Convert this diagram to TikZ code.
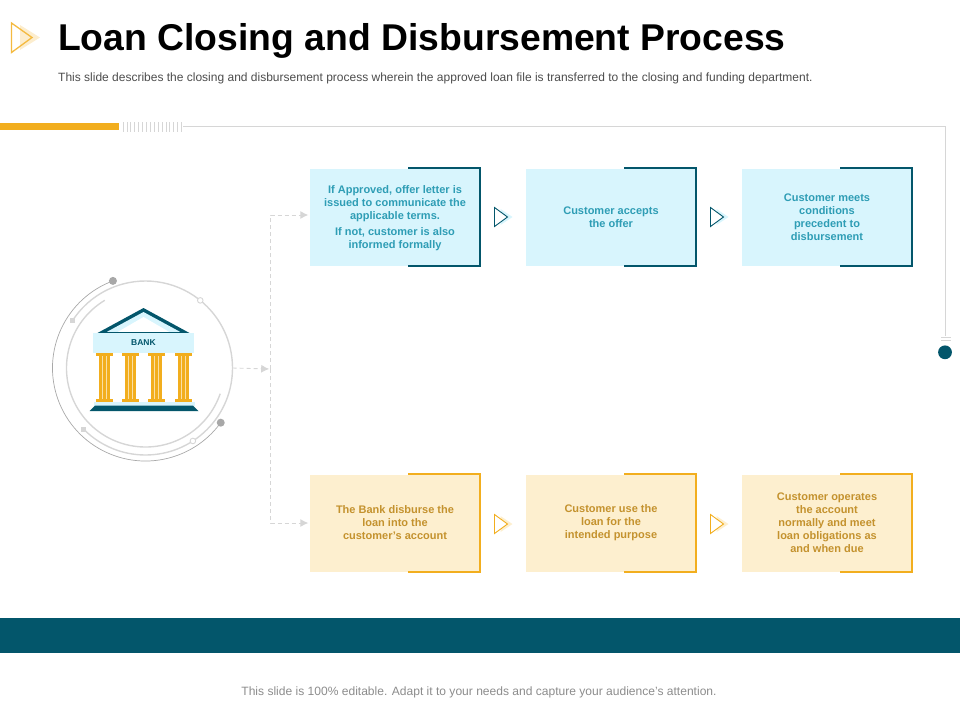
\documentclass[tikz,border=0pt]{standalone}
\usepackage{fontspec}
\setmainfont{Liberation Sans}
\usetikzlibrary{arrows.meta}
\definecolor{tealdark}{HTML}{03566B}
\definecolor{tealtext}{HTML}{2E9DB5}
\definecolor{bluebox}{HTML}{D8F5FD}
\definecolor{orangeline}{HTML}{F2AE1E}
\definecolor{orangebox}{HTML}{FDEFCF}
\definecolor{orangetext}{HTML}{C4922E}
\definecolor{ringgray}{HTML}{D6D6D6}
\definecolor{dotgray}{HTML}{A8A8A8}
\tikzset{
  bluecard/.style={minimum width=170pt,minimum height=97pt,inner sep=0pt,align=center,fill=bluebox,text=tealtext,
    font=\fontsize{11}{13}\selectfont\bfseries},
  orangecard/.style={bluecard,fill=orangebox,text=orangetext},
  dashline/.style={draw=ringgray,dash pattern=on 4pt off 3pt,line width=0.9pt},
  dashtip/.style={-{Latex[length=8pt,width=8pt,fill=ringgray]},shorten >=1.5pt}
}
\newcommand{\cardedge}[2]{\draw[#2,line width=2pt] ([xshift=-72pt]#1.north east) -- (#1.north east) -- (#1.south east) -- ([xshift=-72pt]#1.south east);}
\newcommand{\nexttri}[4]{
\fill[#4] (#1+6,#2-8) -- (#1+18,#2) -- (#1+6,#2+8) -- cycle;
\fill[white] (#1,#2-9.5) -- (#1+13,#2) -- (#1,#2+9.5) -- cycle;
\draw[#3,line width=0.9pt,line join=miter] (#1,#2-9.5) -- (#1+13,#2) -- (#1,#2+9.5) -- cycle;}
\begin{document}
\begin{tikzpicture}[x=1pt,y=-1pt]
\useasboundingbox (0,0) rectangle (960,720);
% heading
\fill[orangeline!22] (20,25) -- (40,37.5) -- (20,50) -- cycle;
\draw[orangeline!85,line width=1.3pt] (11.5,23) -- (32,37.5) -- (11.5,52.5) -- cycle;
\node[anchor=west,inner sep=0pt,font=\fontsize{37.3}{40}\selectfont\bfseries] (title) at (58,40.5) {Loan Closing and Disbursement Process};
\node[anchor=west,inner sep=0pt,text=black!70,font=\fontsize{12}{14}\selectfont] (subtitle) at (58,78) {This slide describes the closing and disbursement process wherein the approved loan file is transferred to the closing and funding department.};
% top rule
\fill[orangeline] (0,123) rectangle (119,130);
\foreach \x in {123,126.9,...,182}
  \draw[ringgray,line width=0.7pt] (\x,122) -- (\x,132);
\draw[ringgray,line width=0.9pt] (183,126.5) -- (945.3,126.5) -- (945.3,336);
\draw[ringgray,line width=0.7pt] (941,337.7) -- (950.5,337.7);
\draw[ringgray,line width=0.7pt] (941,340.5) -- (950.5,340.5);
\fill[tealdark] (945,352.3) circle (6.9);
% cards
\node[bluecard] (offer) at (395,217) {\rule{0pt}{10pt}If Approved, offer letter is\\issued to communicate the\\applicable terms.\\[3pt]If not, customer is also\\informed formally};
\node[bluecard] (accept) at (611,217) {Customer accepts\\the offer};
\node[bluecard] (meets) at (827,217) {Customer meets\\conditions\\precedent to\\disbursement};
\node[orangecard] (disburse) at (395,523) {The Bank disburse the\\loan into the\\customer's account};
\node[orangecard] (use) at (611,523) {Customer use the\\loan for the\\intended purpose};
\node[orangecard] (operates) at (827,523) {Customer operates\\the account\\normally and meet\\loan obligations as\\and when due};
\cardedge{offer}{tealdark}
\cardedge{accept}{tealdark}
\cardedge{meets}{tealdark}
\cardedge{disburse}{orangeline}
\cardedge{use}{orangeline}
\cardedge{operates}{orangeline}
\nexttri{494.5}{217}{tealdark}{bluebox}
\nexttri{710.5}{217}{tealdark}{bluebox}
\nexttri{494.5}{524}{orangeline}{orangebox}
\nexttri{710.5}{524}{orangeline}{orangebox}
% rings
\node[circle,minimum size=174pt,inner sep=0pt] (bank) at (145.5,368) {};
\begin{scope}[shift={(145.5,368)},y=1pt]
\draw[dotgray,line width=0.7pt] (110:93) arc[start angle=110,end angle=324,radius=93];
\draw[ringgray,line width=1.4pt] (121:79) arc[start angle=121,end angle=341,radius=79];
\draw[ringgray,line width=1.4pt] (225:87) arc[start angle=225,end angle=507,radius=87];
\fill[dotgray] (110.5:93) circle (4);
\fill[dotgray] (324:93) circle (4);
\filldraw[fill=white,draw=ringgray,line width=0.9pt] (51:87) circle (2.8);
\filldraw[fill=white,draw=ringgray,line width=0.9pt] (-57:87) circle (2.8);
\fill[ringgray] (147:87) ++(-2.5,-2.5) rectangle ++(5,5);
\fill[ringgray] (225:87) ++(-2.5,-2.5) rectangle ++(5,5);
\end{scope}
% bank icon
\fill[tealdark] (97.5,333) -- (143.5,308) -- (189.5,333) -- cycle;
\fill[bluebox] (107,331.8) -- (143.5,312) -- (180,331.8) -- cycle;
\fill[white] (118,331.8) -- (143.5,317) -- (169,331.8) -- cycle;
\node[fill=bluebox,minimum width=101pt,minimum height=20pt,inner sep=0pt,text=tealdark,font=\fontsize{8.5}{10}\selectfont\bfseries] (banklabel) at (143.5,343) {\raisebox{-0.5pt}{BANK}};
\foreach \x in {104.5,130.3,156.3,183.3} {
  \fill[orangeline] (\x-8.7,353) rectangle (\x+8.7,356);
  \fill[orangeline] (\x-5.7,356) rectangle (\x+5.7,399);
  \fill[orangeline] (\x-8.7,399) rectangle (\x+8.7,402);
  \draw[white!60!orangeline,line width=0.5pt] (\x-2,356) -- (\x-2,399);
  \draw[white!60!orangeline,line width=0.5pt] (\x+2,356) -- (\x+2,399);
}
\fill[bluebox] (94,402) rectangle (195,406);
\fill[tealdark] (95,405.7) -- (193,405.7) -- (198.5,411) -- (89.5,411) -- cycle;
% dashed links
\coordinate (branch) at (270.7,369);
\draw[dashline,dashtip] (bank.east) -- (branch);
\draw[dashline,dashtip] (branch) |- ([yshift=2pt]offer.west);
\draw[dashline,dashtip] (branch) |- (disburse.west);
% bottom band
\fill[tealdark] (0,618) rectangle (960,653);
\node[inner sep=0pt,text=black!45,font=\fontsize{12.05}{14}\selectfont] (footer) at (479,692) {This slide is 100\% editable. Adapt it to your needs and capture your audience's attention.};
\end{tikzpicture}
\end{document}
